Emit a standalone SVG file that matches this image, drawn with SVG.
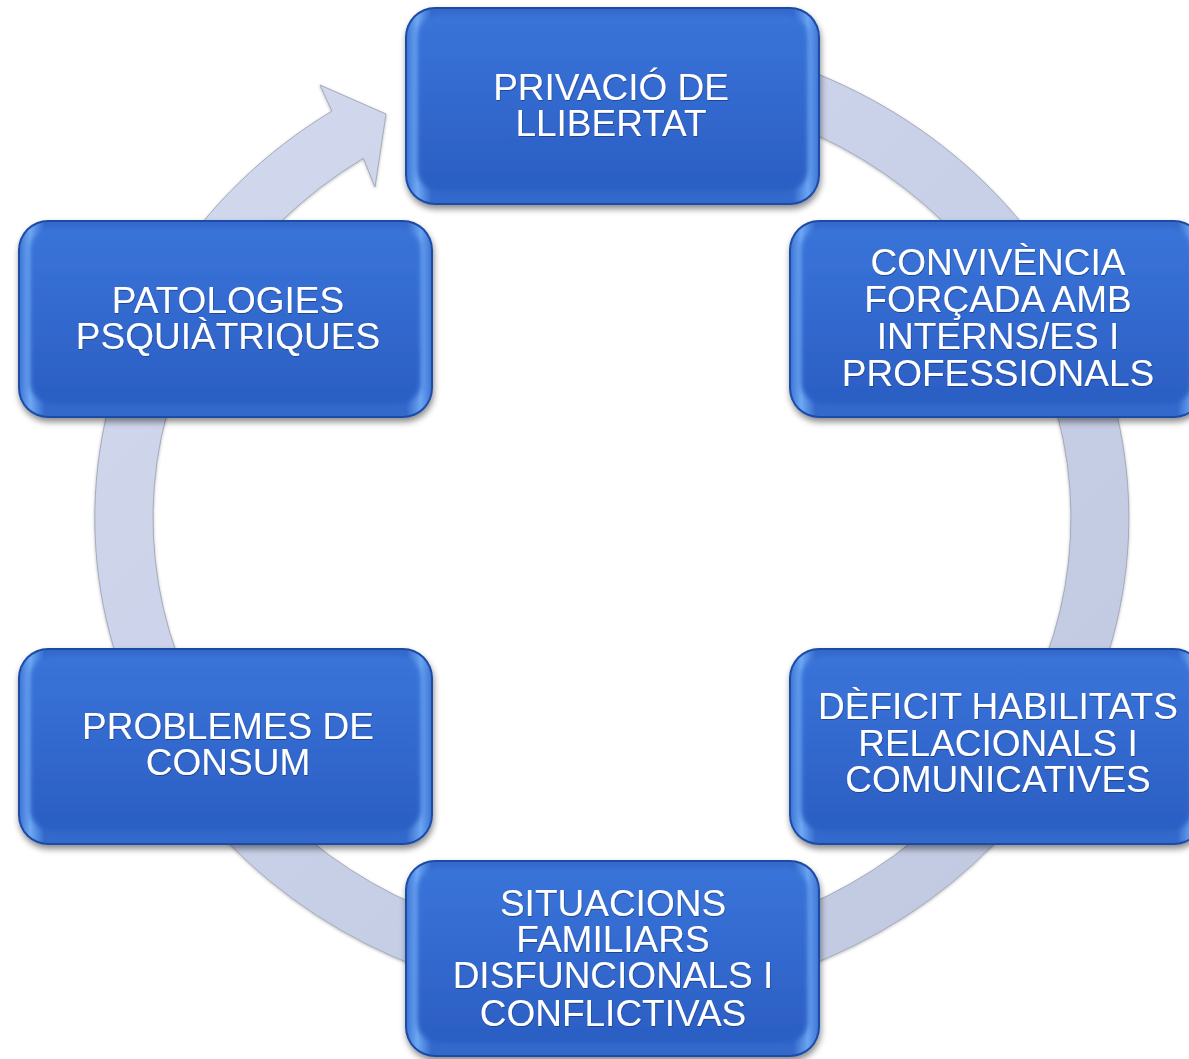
<svg xmlns="http://www.w3.org/2000/svg" width="1189" height="1059" viewBox="0 0 1189 1059">
  <defs>
    <linearGradient id="ringGrad" x1="0" y1="0" x2="1" y2="1">
      <stop offset="0" stop-color="#d4daee"/>
      <stop offset="0.5" stop-color="#c8d0e8"/>
      <stop offset="1" stop-color="#c0c8e0"/>
    </linearGradient>
    <linearGradient id="hl" x1="0" y1="0" x2="1" y2="0">
      <stop offset="0" stop-color="#3f77d6"/>
      <stop offset="0.025" stop-color="#6fa9f4"/>
      <stop offset="0.06" stop-color="#3469cc"/>
      <stop offset="0.94" stop-color="#3469cc"/>
      <stop offset="0.975" stop-color="#6ba5f2"/>
      <stop offset="1" stop-color="#3f77d6"/>
    </linearGradient>
    <linearGradient id="face" x1="0" y1="0" x2="0" y2="1">
      <stop offset="0" stop-color="#3a74d9"/>
      <stop offset="1" stop-color="#2b5ec3"/>
    </linearGradient>
    <filter id="shadow" x="-10%" y="-10%" width="120%" height="125%">
      <feDropShadow dx="1" dy="4" stdDeviation="3" flood-color="#000" flood-opacity="0.45"/>
    </filter>
    <filter id="soft" x="-5%" y="-5%" width="110%" height="110%">
      <feGaussianBlur stdDeviation="2.5"/>
    </filter>
    <filter id="ringShadow" x="-5%" y="-5%" width="110%" height="110%">
      <feDropShadow dx="0" dy="1" stdDeviation="1.5" flood-color="#555" flood-opacity="0.4"/>
    </filter>
    <filter id="txtShadow" x="-5%" y="-20%" width="110%" height="140%">
      <feDropShadow dx="0.5" dy="1" stdDeviation="0.6" flood-color="#0a2a6a" flood-opacity="0.6"/>
    </filter>
  </defs>
  <style>
    .edge { fill: #1f4ca6; filter: url(#shadow); }
    .hl { fill: url(#hl); }
    .face { fill: url(#face); filter: url(#soft); }
    .lbl { font-family: "Liberation Sans", Arial, sans-serif; font-size: 37px; fill: #ffffff; text-anchor: middle; filter: url(#txtShadow); }
    .ring { fill: url(#ringGrad); stroke: #a4abbd; stroke-width: 1; filter: url(#ringShadow); }
  </style>
  <rect width="1189" height="1059" fill="#ffffff"/>

  <g id="connectors">
    <path class="ring" d="M701.8,41.4 A517,484 0 1 1 331.9,111.1 L320,85 L386,114 L375,187 L363.4,158.2 A459,428 0 1 0 691.7,96.5 Z"/>
  </g>

  <g id="node-privacio">
    <rect class="edge" x="405" y="7" width="415" height="198" rx="30"/>
    <rect class="hl" x="407" y="9" width="411" height="194" rx="28"/>
    <rect class="face" x="417" y="15" width="391" height="176" rx="22"/>
    <text class="lbl" x="611" y="100">PRIVACIÓ  DE</text>
    <text class="lbl" x="611" y="136">LLIBERTAT</text>
  </g>

  <g id="node-convivencia">
    <rect class="edge" x="789" y="220" width="415" height="198" rx="30"/>
    <rect class="hl" x="791" y="222" width="411" height="194" rx="28"/>
    <rect class="face" x="801" y="228" width="391" height="176" rx="22"/>
    <text class="lbl" x="998" y="275">CONVIVÈNCIA</text>
    <text class="lbl" x="998" y="312">FORÇADA AMB</text>
    <text class="lbl" x="998" y="349">INTERNS/ES I</text>
    <text class="lbl" x="998" y="386">PROFESSIONALS</text>
  </g>

  <g id="node-deficit">
    <rect class="edge" x="789" y="648" width="415" height="197" rx="30"/>
    <rect class="hl" x="791" y="650" width="411" height="193" rx="28"/>
    <rect class="face" x="801" y="656" width="391" height="175" rx="22"/>
    <text class="lbl" x="998" y="719">DÈFICIT HABILITATS</text>
    <text class="lbl" x="998" y="756">RELACIONALS I</text>
    <text class="lbl" x="998" y="792">COMUNICATIVES</text>
  </g>

  <g id="node-situacions">
    <rect class="edge" x="405" y="860" width="415" height="197" rx="30"/>
    <rect class="hl" x="407" y="862" width="411" height="193" rx="28"/>
    <rect class="face" x="417" y="868" width="391" height="175" rx="22"/>
    <text class="lbl" x="613" y="916">SITUACIONS</text>
    <text class="lbl" x="613" y="952">FAMILIARS</text>
    <text class="lbl" x="613" y="988">DISFUNCIONALS I</text>
    <text class="lbl" x="613" y="1026">CONFLICTIVAS</text>
  </g>

  <g id="node-problemes">
    <rect class="edge" x="18" y="648" width="415" height="197" rx="30"/>
    <rect class="hl" x="20" y="650" width="411" height="193" rx="28"/>
    <rect class="face" x="30" y="656" width="391" height="175" rx="22"/>
    <text class="lbl" x="228" y="739">PROBLEMES  DE</text>
    <text class="lbl" x="228" y="775">CONSUM</text>
  </g>

  <g id="node-patologies">
    <rect class="edge" x="18" y="220" width="415" height="198" rx="30"/>
    <rect class="hl" x="20" y="222" width="411" height="194" rx="28"/>
    <rect class="face" x="30" y="228" width="391" height="176" rx="22"/>
    <text class="lbl" x="228" y="313">PATOLOGIES</text>
    <text class="lbl" x="228" y="349">PSQUIÀTRIQUES</text>
  </g>
</svg>
